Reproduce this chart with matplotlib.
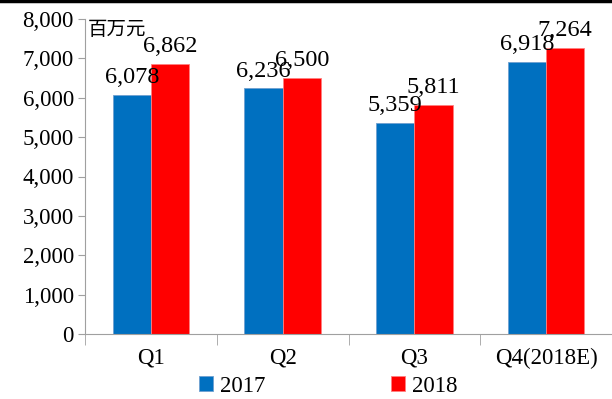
import matplotlib
matplotlib.use("Agg")
import matplotlib.pyplot as plt
import numpy as np

categories = ["Q1", "Q2", "Q3", "Q4(2018E)"]
series_2017 = [6078, 6236, 5359, 6918]
series_2018 = [6862, 6500, 5811, 7264]
labels_2017 = ["6,078", "6,236", "5,359", "6,918"]
labels_2018 = ["6,862", "6,500", "5,811", "7,264"]
yticks = [0, 1000, 2000, 3000, 4000, 5000, 6000, 7000, 8000]

plt.rcParams['font.family'] = ['Liberation Serif', 'Noto Sans CJK SC']

fig = plt.figure(figsize=(6.12, 3.99), dpi=100)
ax = fig.add_axes([85/612, 1-334/399, 1-85/612, 315/399])

x = np.arange(len(categories))
w = 0.29
b1 = ax.bar(x - w/2, series_2017, w, color='#0070C0', edgecolor='#6fa0d0', linewidth=0.6, label='2017')
b2 = ax.bar(x + w/2, series_2018, w, color='#FF0000', edgecolor='#ff8080', linewidth=0.6, label='2018')

for i in range(len(categories)):
    ax.annotate(labels_2017[i], (x[i] - w/2, series_2017[i]), xytext=(0, 5), textcoords='offset points',
                ha='center', va='bottom', fontsize=17.5)
    ax.annotate(labels_2018[i], (x[i] + w/2, series_2018[i]), xytext=(0, 5), textcoords='offset points',
                ha='center', va='bottom', fontsize=17.5)

ax.set_ylim(0, 8000)
ax.set_xlim(-0.5, 3.5 - 5/133)
ax.set_yticks(yticks)
ax.set_yticklabels([f"{v:,}" for v in yticks], fontsize=16.5)
ax.set_xticks(x)
ax.set_xticklabels(categories, fontsize=16.5)
ax.tick_params(axis='x', length=0, pad=10)
ax.set_xticks(np.arange(-0.5, 3.6, 1), minor=True)
ax.tick_params(axis='x', which='minor', length=8, color='#a0a0a0', direction='out')
ax.tick_params(axis='y', length=5, color='#a0a0a0', direction='out', pad=3)
for s in ['top', 'right']:
    ax.spines[s].set_visible(False)
for s in ['left', 'bottom']:
    ax.spines[s].set_color('#a0a0a0')

fig.text(88/612, 1-19/399, "百万元", fontsize=14, ha='left', va='top',
         family=['Noto Sans CJK SC'])

leg = fig.legend(handles=[b1, b2], labels=['2017', '2018'], loc='center', bbox_to_anchor=(328/612, 1-386/399),
                 ncol=2, frameon=False, fontsize=16.5, handlelength=0.6, handleheight=0.6,
                 columnspacing=5.5, handletextpad=0.3, borderpad=0, borderaxespad=0)

fig.add_artist(plt.Line2D([0, 1], [1 - 1/399, 1 - 1/399], color='black', linewidth=2.5, transform=fig.transFigure))

fig.savefig("out.png", dpi=100)
